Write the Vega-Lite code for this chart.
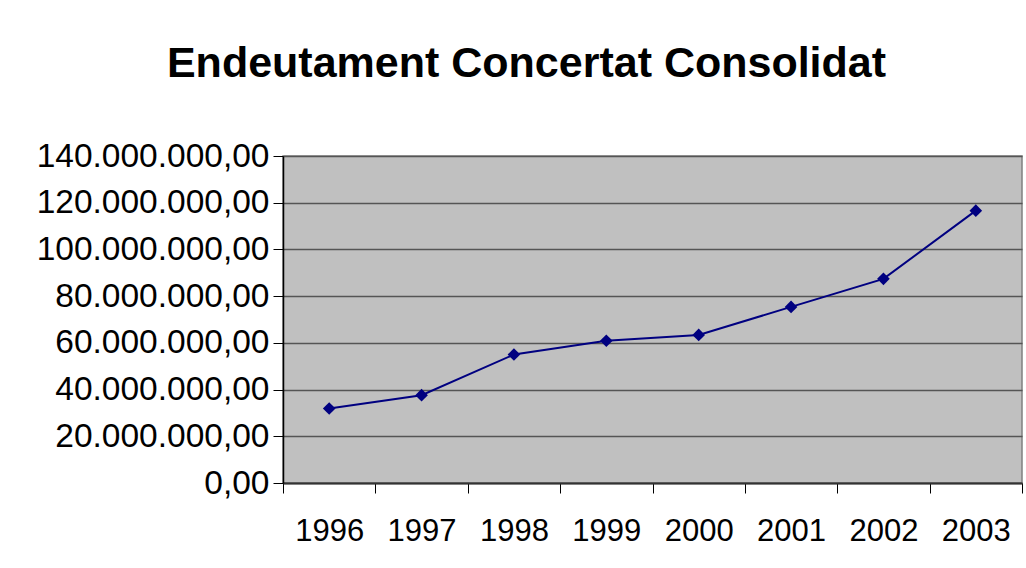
{
  "$schema": "https://vega.github.io/schema/vega-lite/v6.json",
  "autosize": "none",
  "width": 739,
  "height": 327,
  "padding": {"left": 283, "top": 156, "right": 4, "bottom": 85},
  "background": "white",
  "title": {
    "text": "Endeutament Concertat Consolidat",
    "font": "Liberation Sans",
    "fontSize": 43,
    "fontWeight": "bold",
    "color": "black",
    "anchor": "middle",
    "frame": "group",
    "dx": -126,
    "baseline": "alphabetic",
    "offset": 19
  },
  "config": {
    "locale": {"number": {"decimal": ",", "thousands": ".", "grouping": [3], "currency": ["", "€"]}},
    "view": {"fill": "#C0C0C0", "stroke": "#808080", "strokeWidth": 1.5}
  },
  "data": {
    "values": [
      {"any": "1996", "valor": 31900000},
      {"any": "1997", "valor": 37600000},
      {"any": "1998", "valor": 55000000},
      {"any": "1999", "valor": 60900000},
      {"any": "2000", "valor": 63400000},
      {"any": "2001", "valor": 75400000},
      {"any": "2002", "valor": 87400000},
      {"any": "2003", "valor": 116600000}
    ]
  },
  "encoding": {
    "x": {
      "field": "any",
      "type": "ordinal",
      "scale": {"type": "band", "paddingInner": 0, "paddingOuter": 0},
      "axis": {
        "title": null,
        "labelAngle": 0,
        "labelFont": "Liberation Sans",
        "labelFontSize": 31,
        "labelColor": "black",
        "labelPadding": 23,
        "tickBand": "extent",
        "tickSize": 10,
        "tickColor": "black",
        "tickWidth": 1,
        "domainColor": "#333333",
        "domainWidth": 2,
        "grid": false
      }
    },
    "y": {
      "field": "valor",
      "type": "quantitative",
      "scale": {"domain": [0, 140000000], "nice": false, "zero": true},
      "axis": {
        "title": null,
        "values": [0, 20000000, 40000000, 60000000, 80000000, 100000000, 120000000, 140000000],
        "format": ",.2f",
        "labelFont": "Liberation Sans",
        "labelFontSize": 33.5,
        "labelColor": "black",
        "labelPadding": 4,
        "labelLimit": 0,
        "tickSize": 10,
        "tickColor": "black",
        "tickWidth": 1,
        "domainColor": "black",
        "domainWidth": 1.5,
        "grid": true,
        "gridColor": "#555555",
        "gridWidth": 1.5
      }
    }
  },
  "layer": [
    {"mark": {"type": "line", "color": "#000080", "strokeWidth": 2}},
    {"mark": {"type": "point", "shape": "diamond", "filled": true, "color": "#000080", "size": 160, "opacity": 1}}
  ]
}
